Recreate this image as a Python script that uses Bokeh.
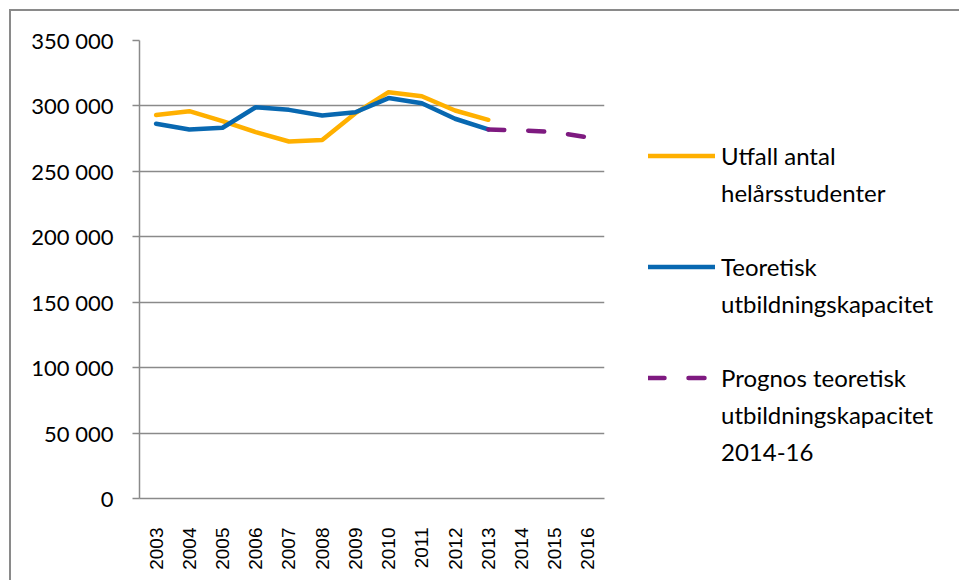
from bokeh.plotting import figure
from bokeh.models import (ColumnDataSource, Legend, LegendItem,
                          FixedTicker, CustomJSTickFormatter)
from bokeh.embed import file_html
from bokeh.resources import INLINE
import math

years = [str(y) for y in range(2003, 2017)]
utfall_years = years[:11]
utfall = [293000, 296000, 288400, 280000, 272800, 274000, 294500, 310500, 307400, 296500, 289400]
teor_years = years[:11]
teoretisk = [286400, 282000, 283300, 299000, 297000, 292700, 295200, 306000, 302000, 290200, 282000]
prog_years = years[10:]
prognos = [282000, 281300, 280000, 276000]
y_ticks = [0, 50000, 100000, 150000, 200000, 250000, 300000, 350000]

legend_lines = [
    ["Utfall antal", "helårsstudenter"],
    ["Teoretisk", "utbildningskapacitet"],
    ["Prognos teoretisk", "utbildningskapacitet", "2014-16"],
]

label_font = "Lato"
grid_col = "#8a8a8a"

p = figure(x_range=years, y_range=(0, 350000), output_backend="svg", toolbar_location=None,
           frame_width=465, frame_height=458,
           min_border_left=128, min_border_right=355, min_border_top=29, min_border_bottom=82)
p.background_fill_color = "white"
p.border_fill_color = "white"
p.outline_line_color = None
p.styles = {"margin-left": "9px", "margin-top": "9px",
            "border-left": "2px solid #8a8a8a", "border-top": "2px solid #8a8a8a"}

# axes
p.yaxis.ticker = FixedTicker(ticks=y_ticks)
p.yaxis.formatter = CustomJSTickFormatter(code="""
const s = Math.round(tick).toString();
return s.replace(/\\B(?=(\\d{3})+(?!\\d))/g, ' ');
""")
p.yaxis.major_label_text_font = label_font
p.yaxis.major_label_text_font_size = "22px"
p.yaxis.major_label_text_color = "black"
p.yaxis.major_label_standoff = 19
p.yaxis.major_tick_out = 7
p.yaxis.major_tick_in = 0
p.yaxis.minor_tick_line_color = None
p.yaxis.axis_line_color = grid_col
p.yaxis.major_tick_line_color = grid_col
p.yaxis.axis_line_width = 1.5
p.yaxis.major_tick_line_width = 1.5

p.xaxis.major_label_orientation = math.pi / 2
p.xaxis.major_label_text_font = "Liberation Sans"
p.xaxis.major_label_text_font_size = "19px"
p.xaxis.major_label_text_color = "black"
p.xaxis.major_label_standoff = 23
p.xaxis.major_tick_line_color = None
p.xaxis.axis_line_color = grid_col
p.xaxis.axis_line_width = 1.5
p.xaxis.minor_tick_line_color = grid_col
p.xaxis.minor_tick_out = 7
p.xaxis.minor_tick_in = 0
p.xaxis.minor_tick_line_width = 1.5

p.xgrid.grid_line_color = None
p.ygrid.grid_line_color = grid_col
p.ygrid.grid_line_width = 1.5

src_u = ColumnDataSource(dict(x=utfall_years, y=utfall))
src_t = ColumnDataSource(dict(x=teor_years, y=teoretisk))
src_p = ColumnDataSource(dict(x=prog_years, y=prognos))

r_u = p.line("x", "y", source=src_u, line_color="#FFB000", line_width=4.5, line_join="round", line_cap="round")
r_t = p.line("x", "y", source=src_t, line_color="#0868B1", line_width=4.5, line_join="round", line_cap="round")
r_p = p.line("x", "y", source=src_p, line_color="#7E1A80", line_width=4.5, line_dash="16 24", line_cap="round")
# invisible renderer used for continuation lines / gaps of the legend
r_blank = p.line(x=[], y=[], line_alpha=0)

items = []
for k, (r, lines) in enumerate(zip([r_u, r_t, r_p], legend_lines)):
    if k > 0:
        items.append(LegendItem(label=" ", renderers=[r_blank]))
    items.append(LegendItem(label=lines[0], renderers=[r]))
    for extra in lines[1:]:
        items.append(LegendItem(label=extra, renderers=[r_blank]))

legend = Legend(items=items, location=(44, 28))
legend.border_line_color = None
legend.background_fill_alpha = 0
legend.padding = 0
legend.margin = 0
legend.spacing = 0
legend.glyph_width = 67
legend.glyph_height = 37
legend.label_height = 20
legend.label_standoff = 6
legend.label_text_font = label_font
legend.label_text_font_size = "24px"
legend.label_text_color = "black"
p.add_layout(legend, "right")

open("out.html", "w").write(file_html(p, INLINE))
